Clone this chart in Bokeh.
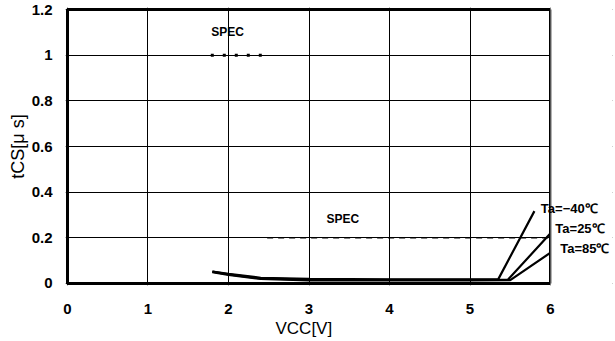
from bokeh.plotting import figure
from bokeh.models import Range1d, FixedTicker, Label, BoxAnnotation, Title
from bokeh.embed import file_html
from bokeh.resources import INLINE

# ---- data ----
x_ticks = [0, 1, 2, 3, 4, 5, 6]
x_tick_labels = ["0", "1", "2", "3", "4", "5", "6"]
y_ticks = [0, 0.2, 0.4, 0.6, 0.8, 1.0, 1.2]
y_tick_labels = ["0", "0.2", "0.4", "0.6", "0.8", "1", "1.2"]

vcc_m40 = [1.8, 2.0, 2.4, 3.0, 4.0, 5.0, 5.35, 5.8]
tcs_m40 = [0.052, 0.042, 0.025, 0.020, 0.018, 0.018, 0.018, 0.317]
vcc_25 = [1.8, 2.0, 2.4, 3.0, 4.0, 5.0, 5.47, 6.0]
tcs_25 = [0.052, 0.040, 0.022, 0.017, 0.016, 0.016, 0.016, 0.22]
vcc_85 = [1.8, 2.0, 2.4, 3.0, 4.0, 5.0, 5.5, 6.0]
tcs_85 = [0.050, 0.038, 0.020, 0.014, 0.013, 0.013, 0.015, 0.135]

spec1_x = [1.78, 2.5]
spec1_y = [1.0, 1.0]
spec2_x = [2.48, 6.0]
spec2_y = [0.2, 0.2]

FONT = "Liberation Sans"
X_MIN, X_MAX = 0, 6
Y_MIN, Y_MAX = 0, 1.2

p = figure(width=615, height=341, output_backend="svg", toolbar_location=None,
           x_range=Range1d(-0.0248, 6.77), y_range=Range1d(-0.0088, 1.2088),
           min_border_left=65, min_border_right=3, min_border_top=7, min_border_bottom=56)
p.background_fill_color = "white"
p.border_fill_color = "white"
p.outline_line_color = None

p.xaxis.ticker = FixedTicker(ticks=x_ticks)
p.yaxis.ticker = FixedTicker(ticks=y_ticks)
p.xaxis.major_label_overrides = {t: l for t, l in zip(x_ticks, x_tick_labels)}
p.yaxis.major_label_overrides = {t: l for t, l in zip(y_ticks, y_tick_labels)}
for ax in (p.xaxis, p.yaxis):
    ax.axis_line_color = None
    ax.major_tick_line_color = None
    ax.minor_tick_line_color = None
    ax.major_tick_out = 0
    ax.major_tick_in = 0
    ax.major_label_text_font = FONT
    ax.major_label_text_font_style = "bold"
    ax.major_label_text_font_size = "15px"
    ax.major_label_text_color = "black"
    ax.axis_label_text_font = FONT
    ax.axis_label_text_font_style = "normal"
    ax.axis_label_text_font_size = "17px"
    ax.axis_label_text_color = "black"
p.xaxis.major_label_standoff = 18
p.yaxis.major_label_standoff = 13
p.yaxis.axis_label = "tCS[μ s]"
p.yaxis.axis_label_text_font_size = "18px"
p.yaxis.axis_label_standoff = 1

p.add_layout(Title(text="VCC[V]", align="left", offset=210, text_font=FONT,
                   text_font_size="17px", text_font_style="normal", text_color="black",
                   standoff=0), "below")

p.xgrid.grid_line_color = "black"
p.ygrid.grid_line_color = "black"
p.xgrid.grid_line_width = 1
p.ygrid.grid_line_width = 1

# plot box
p.quad(left=[X_MIN], right=[X_MAX], bottom=[Y_MIN], top=[Y_MAX],
       fill_color=None, line_color="black", line_width=3)

# spec lines
p.line(spec1_x, spec1_y, line_color="black", line_width=3, line_dash="3 9")
p.line(spec2_x, spec2_y, line_color="black", line_width=1.5, line_dash="6 5")

# curves
for xs, ys in ((vcc_m40, tcs_m40), (vcc_25, tcs_25), (vcc_85, tcs_85)):
    p.line(xs, ys, line_color="black", line_width=2.2)

# blank out the area right of the plot box, then redraw its right edge
p.add_layout(BoxAnnotation(left=X_MAX, fill_color="white", fill_alpha=1, line_color=None))
p.add_layout(BoxAnnotation(left=X_MAX, right=X_MAX, bottom=Y_MIN, top=Y_MAX,
                           fill_alpha=0, line_color="black", line_width=3))

# texts
for x, y, t in ((1.99, 1.10, "SPEC"), (3.42, 0.283, "SPEC")):
    p.add_layout(Label(x=x, y=y, text=t, text_font=FONT, text_font_style="bold",
                       text_font_size="12px", text_align="center", text_baseline="middle",
                       text_color="black"))
for x, y, t in ((5.88, 0.33, "Ta=−40℃"), (6.06, 0.24, "Ta=25℃"), (6.12, 0.152, "Ta=85℃")):
    p.add_layout(Label(x=x, y=y, text=t, text_font=FONT, text_font_style="bold",
                       text_font_size="13px", text_align="left", text_baseline="middle",
                       text_color="black"))

open("out.html", "w").write(file_html(p, INLINE))
